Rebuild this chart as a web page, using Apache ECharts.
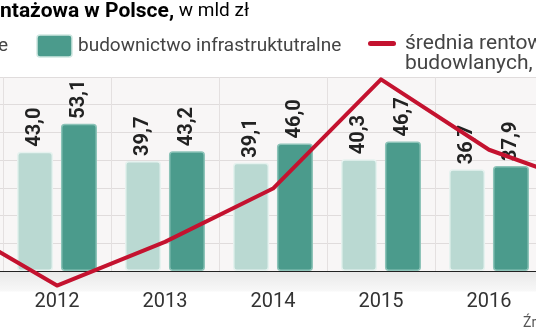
<!DOCTYPE html>
<html><head><meta charset="utf-8">
<script src="https://cdn.jsdelivr.net/npm/echarts@6/dist/echarts.min.js"></script>
<style>html,body{margin:0;padding:0;background:#fff;overflow:hidden;width:536px;height:332px}
#c{position:absolute;left:-105px;top:0;width:756px;height:332px}</style>
</head><body><div id="c"></div>
<script>
// Data
const years = ['2011', '2012', '2013', '2014', '2015', '2016', '2017'];
const kubaturowe = [null, 43.0, 39.7, 39.1, 40.3, 36.7, null];          // light bars, mld zł
const infrastrukturalne = [null, 53.1, 43.2, 46.0, 46.7, 37.9, null];   // dark bars, mld zł
const rentownosc = [2.0, 0.7, 1.6, 2.7, 4.95, 3.5, 2.7];                // red line, %
const barTicks = [0, 10, 20, 30, 40, 50, 60, 70];

const LIGHT = '#bad9d2', DARK = '#4b9b8c', RED = '#c4122f';
const FONT = 'Roboto, "Noto Sans", sans-serif';
const OX = 105; // the chart canvas starts 105px left of the visible window
const fmt = p => p.value == null ? '' : p.value.toFixed(1).replace('.', ',');

const chart = echarts.init(document.getElementById('c'), null, {renderer: 'canvas'});
chart.setOption({
  animation: false,
  backgroundColor: '#ffffff',
  textStyle: {fontFamily: FONT},
  grid: [
    {left: 0, right: 0, top: 77, bottom: 61, show: true, backgroundColor: '#f8f6f6', borderWidth: 0},
    {left: 0, right: 0, top: 77, bottom: 12.5, show: false}
  ],
  xAxis: [
    {type: 'category', data: years, gridIndex: 0,
     axisLine: {lineStyle: {color: '#222', width: 1}},
     axisTick: {show: false},
     axisLabel: {fontSize: 20, color: '#333', margin: 21, fontFamily: FONT},
     splitLine: {show: true, lineStyle: {color: '#e4e0e0', width: 1}}},
    {type: 'category', data: years, gridIndex: 1, show: false}
  ],
  yAxis: [
    {type: 'value', gridIndex: 0, min: barTicks[0], max: barTicks[barTicks.length - 1], interval: 10,
     axisLabel: {show: false}, axisLine: {show: false}, axisTick: {show: false},
     splitLine: {lineStyle: {color: '#e0dcdc', width: 1}}},
    {type: 'value', gridIndex: 1, min: 0, max: 5, show: false, splitLine: {show: false}}
  ],
  graphic: [
    {type: 'rect', z: 0, shape: {x: OX, y: 271.5, width: 536, height: 20},
     style: {fill: new echarts.graphic.LinearGradient(0, 0, 0, 1, [
       {offset: 0, color: '#e9e9e9'}, {offset: 1, color: '#f8f8f8'}])}},
    // title
    {type: 'text', x: OX, y: 1, style: {text: 'Produkcja budowlano-mo', align: 'right',
      font: 'bold 21px ' + FONT, fill: '#111', verticalAlign: 'top'}},
    {type: 'text', x: OX, y: 1, style: {
      text: '{b|ntażowa w Polsce,}{r| w mld zł}', verticalAlign: 'top',
      rich: {b: {fontSize: 21, fontWeight: 'bold', fontFamily: FONT, color: '#111'},
             r: {fontSize: 19, fontFamily: FONT, color: '#444'}}}},
    // legend
    {type: 'text', x: OX + 8, y: 46, style: {text: 'budownictwo kubaturowe', align: 'right', verticalAlign: 'middle',
      font: '19px ' + FONT, fill: '#444'}},
    {type: 'rect', shape: {x: OX + 37, y: 35, width: 35, height: 22, r: 3},
      style: {fill: DARK, stroke: '#cfe7e1', lineWidth: 1.5}},
    {type: 'text', x: OX + 78, y: 46, style: {text: 'budownictwo infrastruktutralne', verticalAlign: 'middle',
      font: '19px ' + FONT, fill: '#444'}},
    {type: 'rect', shape: {x: OX + 368, y: 41, width: 28, height: 5, r: 2.5}, style: {fill: RED}},
    {type: 'text', x: OX + 405, y: 34, style: {text: 'średnia rentowność firm\nbudowlanych, w %', verticalAlign: 'top',
      lineHeight: 20, font: '21px ' + FONT, fill: '#444'}},
    {type: 'text', x: OX + 523, y: 323, style: {text: 'Źródło: GUS', verticalAlign: 'middle',
      font: '14px ' + FONT, fill: '#555'}}
  ],
  series: [
    {name: 'budownictwo kubaturowe', type: 'bar', data: kubaturowe, barWidth: 36, barGap: '22%',
     itemStyle: {color: LIGHT, borderColor: '#e6f2ef', borderWidth: 1.5, borderRadius: 3},
     label: {show: true, position: 'top', rotate: 90, align: 'left', verticalAlign: 'middle', distance: 5,
             formatter: fmt, fontSize: 20, fontWeight: 'bold', color: '#222', fontFamily: FONT}},
    {name: 'budownictwo infrastruktutralne', type: 'bar', data: infrastrukturalne, barWidth: 36,
     itemStyle: {color: DARK, borderColor: '#8cc3b8', borderWidth: 1.5, borderRadius: 3},
     label: {show: true, position: 'top', rotate: 90, align: 'left', verticalAlign: 'middle', distance: 5,
             formatter: fmt, fontSize: 20, fontWeight: 'bold', color: '#222', fontFamily: FONT}},
    {name: 'średnia rentowność firm budowlanych', type: 'line', data: rentownosc, xAxisIndex: 1, yAxisIndex: 1,
     symbol: 'none', clip: false, z: 5,
     lineStyle: {color: RED, width: 4, cap: 'round', join: 'round'}}
  ]
});
</script></body></html>
